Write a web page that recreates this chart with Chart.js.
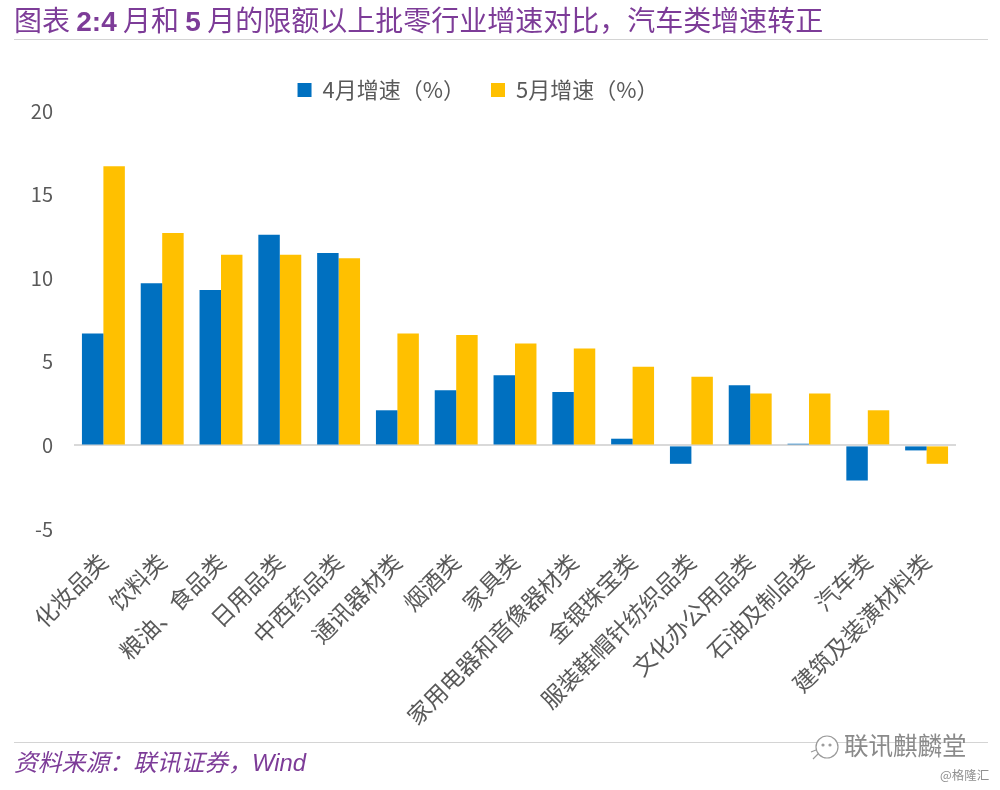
<!DOCTYPE html>
<html><head><meta charset="utf-8">
<script src="https://cdn.jsdelivr.net/npm/chart.js@4"></script>
<style>
html,body{margin:0;padding:0;background:#fff;width:1000px;height:790px;overflow:hidden}
#wrap{position:relative;width:1000px;height:790px;font-family:"Noto Sans CJK SC","Liberation Sans",sans-serif}
canvas{position:absolute;left:0;top:0}
.t{position:absolute;white-space:pre}
.l{position:absolute;height:1px;background:#d4d4d4;left:14px;width:974px}
#title{left:14px;top:-1px;font-size:28px;line-height:40px;color:#7d3c98}
#title b{font-family:"Liberation Sans",sans-serif;font-weight:700}
#src{left:14px;top:744px;font-size:23.8px;line-height:34px;font-style:italic;color:#7d3c98}
#src span{font-family:"Liberation Sans",sans-serif}
#wm{left:844px;top:727px;font-size:24.5px;line-height:36px;color:#8a8a8a}
#gl{left:940px;top:766px;font-size:12.5px;line-height:18px;color:#8f8f8f}
svg{position:absolute;left:810px;top:730px}
</style></head><body>
<div id="wrap">
<canvas id="c" width="1000" height="790" style="width:1000px;height:790px"></canvas>
<div class="t" id="title">图表 <b>2:4</b> 月和 <b>5</b> 月的限额以上批零行业增速对比，汽车类增速转正</div>
<div class="l" style="top:39px"></div>
<div class="l" style="top:742px"></div>
<div class="t" id="src">资料来源：联讯证券，<span>Wind</span></div>
<svg width="32" height="32" viewBox="0 0 32 32" fill="none" stroke="#9a9a9a" stroke-width="1.2"><ellipse cx="17" cy="17" rx="11" ry="11" fill="#fff"/><path d="M8 24 L3 29 M6 20 L1 22"/><circle cx="13" cy="15" r="1" fill="#9a9a9a"/><circle cx="20" cy="15" r="1" fill="#9a9a9a"/></svg>
<div class="t" id="wm">联讯麒麟堂</div>
<div class="t" id="gl">@格隆汇</div>
</div>
<script>
const categories = ["化妆品类","饮料类","粮油、食品类","日用品类","中西药品类","通讯器材类","烟酒类","家具类","家用电器和音像器材类","金银珠宝类","服装鞋帽针纺织品类","文化办公用品类","石油及制品类","汽车类","建筑及装潢材料类"];
const april = [6.7,9.7,9.3,12.6,11.5,2.1,3.3,4.2,3.2,0.4,-1.1,3.6,0.1,-2.1,-0.3];
const may = [16.7,12.7,11.4,11.4,11.2,6.7,6.6,6.1,5.8,4.7,4.1,3.1,3.1,2.1,-1.1];
const fontFamily = '"Noto Sans CJK SC","Liberation Sans",sans-serif';
new Chart(document.getElementById('c'),{
  type:'bar',
  data:{labels:categories,datasets:[
    {label:'4月增速（%）',data:april,backgroundColor:'#0070c0',categoryPercentage:0.73,barPercentage:1},
    {label:'5月增速（%）',data:may,backgroundColor:'#ffc000',categoryPercentage:0.73,barPercentage:1}
  ]},
  options:{
    responsive:false,animation:false,
    layout:{padding:{top:53,left:0,right:44,bottom:0}},
    plugins:{
      tooltip:{enabled:false},
      legend:{position:'top',labels:{boxWidth:14,boxHeight:14,padding:26,color:'#595959',font:{family:fontFamily,size:22}}}
    },
    scales:{
      x:{
        grid:{display:false},border:{display:false},
        ticks:{autoSkip:false,minRotation:45,maxRotation:45,padding:11,color:'#595959',font:{family:fontFamily,size:23}},
        afterFit(s){s.height=261;}
      },
      y:{
        min:-5,max:20,
        grid:{drawTicks:false,color:c=>c.tick.value===0?'#d9d9d9':'transparent',lineWidth:2},
        border:{display:false},
        ticks:{stepSize:5,padding:21,color:'#595959',font:{family:fontFamily,size:20}},
        afterFit(s){s.width=74;}
      }
    }
  }
});
</script>
</body></html>
